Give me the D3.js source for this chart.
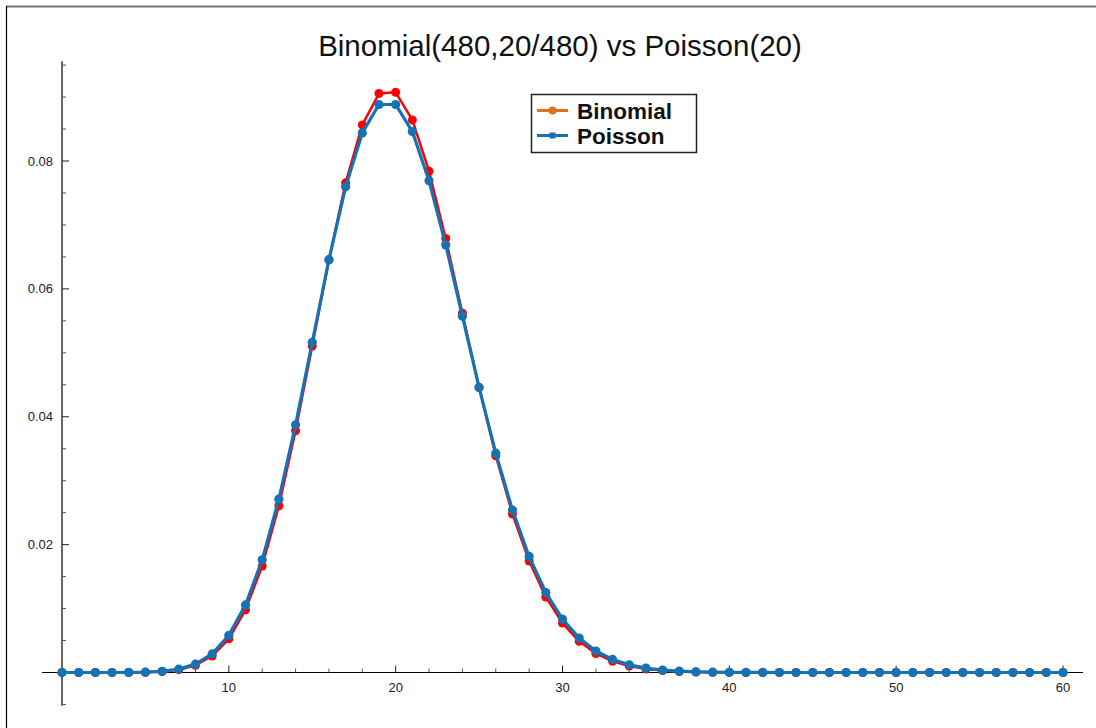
<!DOCTYPE html>
<html><head><meta charset="utf-8">
<script src="https://cdn.jsdelivr.net/npm/d3@7"></script>
<style>body{margin:0;background:#fff}svg{display:block}text{font-family:"Liberation Sans",Arial,sans-serif}</style>
</head><body>
<script>
const ks = d3.range(0, 61);
const binomial = [0.0000000013,0.000000028,0.0000003,0.0000020,0.0000105,0.0000434,0.000149,0.000440,0.001130,0.002577,
0.005276,0.009802,0.016657,0.026072,0.037812,0.051074,0.064536,0.076585,0.085649,0.090549,
0.090746,0.086425,0.078398,0.067876,0.056194,0.044564,0.033907,0.024789,0.017437,0.011816,
0.007723,0.004874,0.002973,0.001755,0.001003,0.000556,0.000299,0.000156,0.0000791,0.0000390,
0.0000187,0.0000087,0.0000039,0.0000017,0.0000007,0.0000003,0,0,0,0,
0,0,0,0,0,0,0,0,0,0,0];
const poisson = [0.0000000021,0.000000041,0.00000041,0.0000027,0.0000137,0.0000549,0.000183,0.000523,0.001309,0.002908,
0.005816,0.010575,0.017625,0.027116,0.038737,0.051649,0.064561,0.075954,0.084394,0.088835,
0.088835,0.084605,0.076914,0.066882,0.055735,0.044588,0.034298,0.025406,0.018147,0.012515,
0.008344,0.005383,0.003364,0.002039,0.001199,0.000685,0.000381,0.000206,0.000108,0.0000554,
0.0000277,0.0000135,0.0000064,0.0000030,0.0000014,0.0000006,0.0000003,0,0,0,
0,0,0,0,0,0,0,0,0,0,0];
const xMajor = [10,20,30,40,50,60];
const yMajor = [0.02,0.04,0.06,0.08];
const title = "Binomial(480,20/480) vs Poisson(20)";
const legendNames = ["Binomial","Poisson"];

const W = 1096, H = 728;
const svg = d3.select("body").append("svg").attr("width", W).attr("height", H);

// frame
svg.append("line").attr("x1",6).attr("x2",W).attr("y1",6.5).attr("y2",6.5).attr("stroke","#777").attr("stroke-width",2);
svg.append("line").attr("x1",6.5).attr("x2",6.5).attr("y1",6).attr("y2",H).attr("stroke","#000").attr("stroke-width",1.2);

const x = d3.scaleLinear().domain([0,60]).range([62,1063]);
const y = d3.scaleLinear().domain([0,0.08]).range([672.5,161]);

// title
svg.append("text").attr("x",560).attr("y",56).attr("text-anchor","middle")
  .attr("font-size",29.5).attr("fill","#111").text(title);

// x axis
const x0 = y(0);
svg.append("line").attr("x1",x(-1.2)).attr("x2",x(61.2)).attr("y1",x0).attr("y2",x0).attr("stroke","#000").attr("stroke-width",1.2);
const xMinor = d3.range(2,61,2).filter(v=>!xMajor.includes(v));
svg.selectAll(".xmin").data(xMinor).join("line").attr("x1",d=>x(d)).attr("x2",d=>x(d)).attr("y1",x0).attr("y2",x0-4).attr("stroke","#555").attr("stroke-width",1);
svg.selectAll(".xmaj").data(xMajor).join("line").attr("x1",d=>x(d)).attr("x2",d=>x(d)).attr("y1",x0).attr("y2",x0-7).attr("stroke","#222").attr("stroke-width",1);
svg.selectAll(".xlab").data(xMajor).join("text").attr("x",d=>x(d)).attr("y",x0+19).attr("text-anchor","middle").attr("font-size",13).attr("fill","#222").text(d=>d);

// y axis
const y0 = x(0);
svg.append("line").attr("x1",y0).attr("x2",y0).attr("y1",y(0.0956)).attr("y2",y(-0.0052)).attr("stroke","#000").attr("stroke-width",1.2);
const yMinor = d3.range(-1,20).map(i=>i*0.005).filter(v=>Math.abs(v)>1e-9 && !yMajor.some(m=>Math.abs(m-v)<1e-9));
svg.selectAll(".ymin").data(yMinor).join("line").attr("x1",y0).attr("x2",y0+4).attr("y1",d=>y(d)).attr("y2",d=>y(d)).attr("stroke","#555").attr("stroke-width",1);
svg.selectAll(".ymaj").data(yMajor).join("line").attr("x1",y0).attr("x2",y0+7).attr("y1",d=>y(d)).attr("y2",d=>y(d)).attr("stroke","#222").attr("stroke-width",1);
svg.selectAll(".ylab").data(yMajor).join("text").attr("x",y0-9).attr("y",d=>y(d)+4.5).attr("text-anchor","end").attr("font-size",13).attr("fill","#222").text(d=>d.toFixed(2));

// series
const line = d3.line().x((d,i)=>x(ks[i])).y(d=>y(d));
const series = [
  {vals: binomial, color:"#ff0000", w:2.5, r:4.5},
  {vals: poisson, color:"#1572b3", w:3.2, r:4.6}
];
series.forEach(s=>{
  svg.append("path").datum(s.vals).attr("d",line).attr("fill","none").attr("stroke",s.color).attr("stroke-width",s.w).attr("stroke-linejoin","round");
  svg.append("g").selectAll("circle").data(s.vals).join("circle")
    .attr("cx",(d,i)=>x(ks[i])).attr("cy",d=>y(d)).attr("r",s.r).attr("fill",s.color);
});

// legend
const lg = svg.append("g");
lg.append("rect").attr("x",531.5).attr("y",94.5).attr("width",165).attr("height",58).attr("fill","#fff").attr("stroke","#222").attr("stroke-width",1.5);
const legColors = ["#e0701a","#1572b3"];
legendNames.forEach((n,i)=>{
  const cy = 110.5 + i*25;
  lg.append("line").attr("x1",537).attr("x2",568).attr("y1",cy).attr("y2",cy).attr("stroke",legColors[i]).attr("stroke-width",3);
  if(i===0) lg.append("circle").attr("cx",552.5).attr("cy",cy).attr("r",4).attr("fill",legColors[i]);
  else lg.append("rect").attr("x",549.5).attr("y",cy-3).attr("width",6).attr("height",6).attr("fill",legColors[i]);
  lg.append("text").attr("x",577).attr("y",cy+8).attr("font-size",22.5).attr("font-weight","bold").attr("fill","#111").text(n);
});
</script>
</body></html>
